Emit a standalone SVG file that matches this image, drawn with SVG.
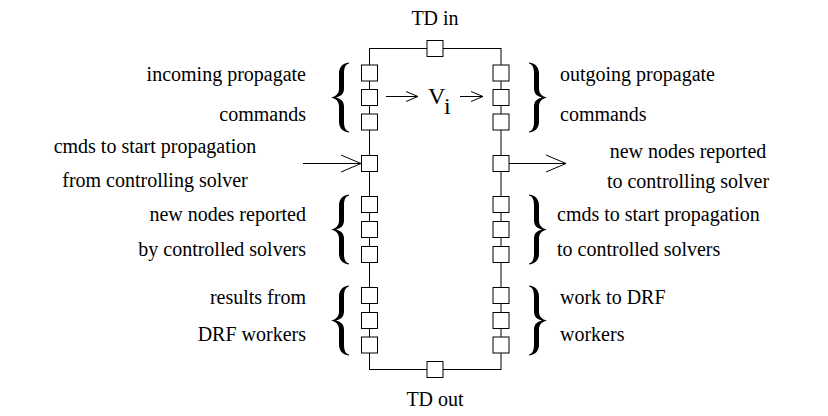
<svg xmlns="http://www.w3.org/2000/svg" width="828" height="416" viewBox="0 0 828 416" font-family="'Liberation Serif', 'Times New Roman', 'DejaVu Serif', serif">
<defs>
<style>
text{font-size:20px;fill:#000}
.l{text-anchor:end}
.c{text-anchor:middle}
.box{fill:#fff;stroke:#000;stroke-width:1}
.ln{fill:none;stroke:#000;stroke-width:1}
.br{fill:#000;stroke:none}
</style>
<rect id="port" x="-8" y="-8" width="16" height="16" class="box"/>
<path id="brace" class="br" d="M18,-35 C11,-34 8,-30 8,-24 L8,-9 C8,-4 5,-1 0,0 C5,1 8,4 8,9 L8,24 C8,30 11,34 18,35 L18,34 C14,33 13,29 13,24 L13,9 C13,3 9,1 5,0 C9,-1 13,-3 13,-9 L13,-24 C13,-29 14,-33 18,-34 Z"/>
</defs>

<g id="block">
<rect x="369.5" y="48.5" width="131.5" height="321" class="ln"/>
</g>

<g id="connectors">
<path class="ln" d="M386,96.5 H418 M406,91.5 L418,96.5 L406,101.5"/>
<path class="ln" d="M460,96.5 H483 M471,91.5 L483,96.5 L471,101.5"/>
<path class="ln" d="M303,163.5 H361 M341,155 L361,163.5 L341,172"/>
<path class="ln" d="M509,163.5 H566 M546,155 L566,163.5 L546,172"/>
</g>

<g id="ports">
<use href="#port" x="435" y="48.5"/>
<use href="#port" x="435" y="369.5"/>
<use href="#port" x="369.5" y="73"/>
<use href="#port" x="369.5" y="97.5"/>
<use href="#port" x="369.5" y="122"/>
<use href="#port" x="369.5" y="163.5"/>
<use href="#port" x="369.5" y="204.5"/>
<use href="#port" x="369.5" y="229.5"/>
<use href="#port" x="369.5" y="254.5"/>
<use href="#port" x="369.5" y="295.5"/>
<use href="#port" x="369.5" y="320.5"/>
<use href="#port" x="369.5" y="345"/>
<use href="#port" x="501" y="73"/>
<use href="#port" x="501" y="97.5"/>
<use href="#port" x="501" y="122"/>
<use href="#port" x="501" y="163.5"/>
<use href="#port" x="501" y="204.5"/>
<use href="#port" x="501" y="229.5"/>
<use href="#port" x="501" y="254.5"/>
<use href="#port" x="501" y="295.5"/>
<use href="#port" x="501" y="320.5"/>
<use href="#port" x="501" y="345"/>
</g>

<g id="vi">
<text x="428" y="104" style="font-size:24px">V</text>
<text x="444" y="114" style="font-size:24px">i</text>
</g>

<g id="td-in"><text class="c" x="435" y="25">TD in</text></g>
<g id="td-out"><text class="c" x="435" y="406">TD out</text></g>

<g id="incoming">
<use href="#brace" x="331" y="97.5"/>
<text class="l" x="306" y="81">incoming propagate</text>
<text class="l" x="306" y="121">commands</text>
</g>
<g id="outgoing">
<use href="#brace" transform="translate(547,97.5) scale(-1,1)"/>
<text x="560" y="81">outgoing propagate</text>
<text x="560" y="121">commands</text>
</g>
<g id="start-from">
<text class="c" x="155" y="153">cmds to start propagation</text>
<text class="c" x="155" y="187">from controlling solver</text>
</g>
<g id="reported-to">
<text class="c" x="688" y="158">new nodes reported</text>
<text class="c" x="688" y="188">to controlling solver</text>
</g>
<g id="reported-by">
<use href="#brace" x="331" y="229.5"/>
<text class="l" x="306" y="221">new nodes reported</text>
<text class="l" x="306" y="256">by controlled solvers</text>
</g>
<g id="start-to">
<use href="#brace" transform="translate(547,229.5) scale(-1,1)"/>
<text x="557" y="221">cmds to start propagation</text>
<text x="557" y="256">to controlled solvers</text>
</g>
<g id="results">
<use href="#brace" x="331" y="320.5"/>
<text class="l" x="306" y="304">results from</text>
<text class="l" x="306" y="341">DRF workers</text>
</g>
<g id="work">
<use href="#brace" transform="translate(547,320.5) scale(-1,1)"/>
<text x="560" y="304">work to DRF</text>
<text x="560" y="341">workers</text>
</g>
</svg>
